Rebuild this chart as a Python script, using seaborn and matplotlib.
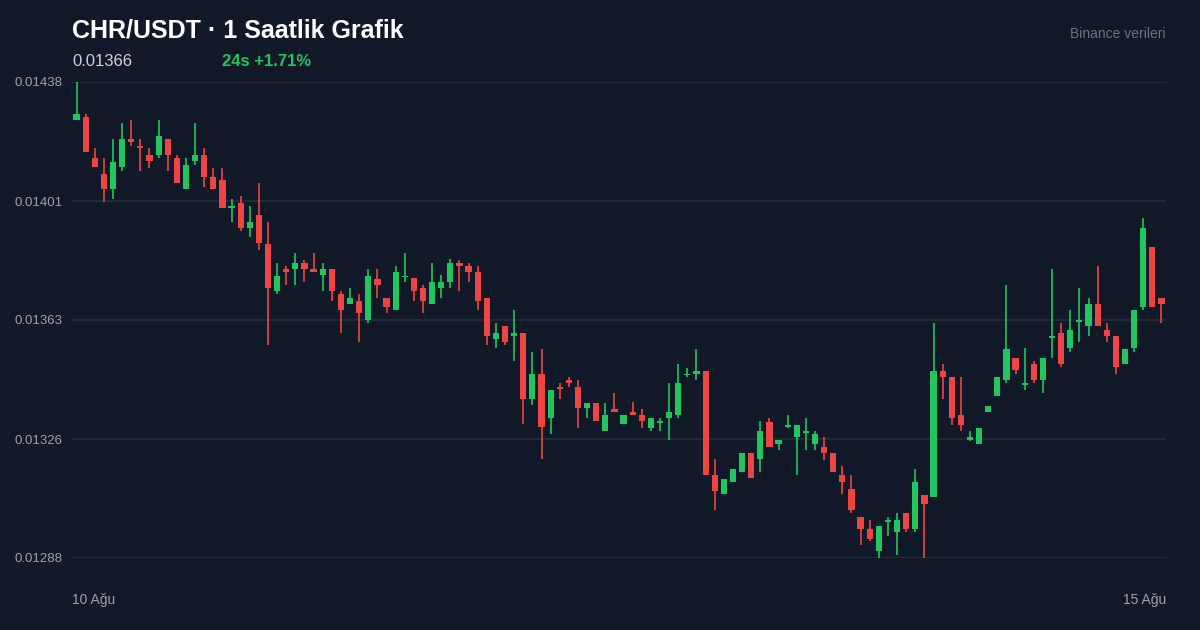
import numpy as np
import matplotlib
matplotlib.use("Agg")
import matplotlib.pyplot as plt
import seaborn as sns

# CHR/USDT 1h candles, 10-15 Aug
opens = [
    0.014261, 0.014270, 0.014139, 0.014090, 0.014042, 0.014111, 0.014199, 0.014179, 0.014150, 0.014151,
    0.014200, 0.014140, 0.014042, 0.014132, 0.014150, 0.014080, 0.014070, 0.013984, 0.014000, 0.013921,
    0.013961, 0.013869, 0.013721, 0.013791, 0.013791, 0.013809, 0.013791, 0.013772, 0.013791, 0.013711,
    0.013680, 0.013691, 0.013630, 0.013759, 0.013700, 0.013660, 0.013765, 0.013761, 0.013730, 0.013680,
    0.013731, 0.013751, 0.013811, 0.013800, 0.013780, 0.013700, 0.013571, 0.013610, 0.013581, 0.013590,
    0.013381, 0.013460, 0.013321, 0.013420, 0.013441, 0.013420, 0.013352, 0.013369, 0.013281, 0.013350,
    0.013301, 0.013340, 0.013330, 0.013291, 0.013305, 0.013320, 0.013331, 0.013456, 0.013461, 0.013469,
    0.013141, 0.013081, 0.013121, 0.013150, 0.013210, 0.013191, 0.013310, 0.013240, 0.013294, 0.013261,
    0.013275, 0.013240, 0.013230, 0.013210, 0.013140, 0.013099, 0.013010, 0.012970, 0.012901, 0.012994,
    0.012961, 0.013021, 0.012971, 0.013080, 0.013071, 0.013469, 0.013449, 0.013330, 0.013252, 0.013240,
    0.013341, 0.013392, 0.013441, 0.013509, 0.013425, 0.013490, 0.013441, 0.013574, 0.013589, 0.013541,
    0.013625, 0.013611, 0.013679, 0.013600, 0.013580, 0.013490, 0.013541, 0.013671, 0.013859, 0.013699,
]
highs = [
    0.014380, 0.014280, 0.014171, 0.014139, 0.014200, 0.014250, 0.014260, 0.014199, 0.014171, 0.014260,
    0.014200, 0.014150, 0.014140, 0.014250, 0.014171, 0.014110, 0.014110, 0.014010, 0.014021, 0.013990,
    0.014061, 0.013939, 0.013811, 0.013800, 0.013840, 0.013820, 0.013840, 0.013809, 0.013791, 0.013721,
    0.013731, 0.013711, 0.013791, 0.013791, 0.013700, 0.013800, 0.013840, 0.013761, 0.013740, 0.013811,
    0.013771, 0.013821, 0.013819, 0.013809, 0.013800, 0.013700, 0.013621, 0.013610, 0.013660, 0.013590,
    0.013530, 0.013540, 0.013409, 0.013430, 0.013450, 0.013441, 0.013369, 0.013369, 0.013369, 0.013400,
    0.013331, 0.013371, 0.013351, 0.013320, 0.013320, 0.013430, 0.013490, 0.013480, 0.013540, 0.013469,
    0.013191, 0.013130, 0.013160, 0.013210, 0.013210, 0.013311, 0.013320, 0.013251, 0.013331, 0.013300,
    0.013320, 0.013280, 0.013260, 0.013210, 0.013170, 0.013140, 0.013010, 0.013000, 0.012980, 0.013010,
    0.013021, 0.013021, 0.013159, 0.013080, 0.013619, 0.013490, 0.013449, 0.013449, 0.013280, 0.013290,
    0.013360, 0.013449, 0.013740, 0.013509, 0.013541, 0.013500, 0.013509, 0.013790, 0.013620, 0.013660,
    0.013730, 0.013700, 0.013800, 0.013620, 0.013580, 0.013540, 0.013660, 0.013950, 0.013859, 0.013699,
]
lows = [
    0.014261, 0.014160, 0.014111, 0.014001, 0.014011, 0.014101, 0.014179, 0.014101, 0.014110, 0.014142,
    0.014101, 0.014061, 0.014042, 0.014120, 0.014050, 0.014042, 0.013982, 0.013940, 0.013910, 0.013890,
    0.013851, 0.013551, 0.013711, 0.013740, 0.013740, 0.013751, 0.013780, 0.013721, 0.013691, 0.013590,
    0.013680, 0.013562, 0.013621, 0.013700, 0.013651, 0.013660, 0.013751, 0.013691, 0.013651, 0.013680,
    0.013700, 0.013732, 0.013721, 0.013751, 0.013661, 0.013550, 0.013541, 0.013550, 0.013501, 0.013301,
    0.013361, 0.013191, 0.013271, 0.013381, 0.013420, 0.013291, 0.013321, 0.013311, 0.013281, 0.013341,
    0.013301, 0.013331, 0.013291, 0.013280, 0.013280, 0.013251, 0.013320, 0.013451, 0.013441, 0.013141,
    0.013031, 0.013081, 0.013121, 0.013150, 0.013131, 0.013151, 0.013231, 0.013220, 0.013291, 0.013141,
    0.013220, 0.013220, 0.013190, 0.013150, 0.013081, 0.013021, 0.012921, 0.012932, 0.012880, 0.012950,
    0.012891, 0.012961, 0.012961, 0.012880, 0.013071, 0.013380, 0.013300, 0.013280, 0.013250, 0.013240,
    0.013341, 0.013392, 0.013430, 0.013461, 0.013409, 0.013430, 0.013401, 0.013511, 0.013481, 0.013530,
    0.013562, 0.013580, 0.013611, 0.013561, 0.013461, 0.013490, 0.013530, 0.013660, 0.013671, 0.013622,
]
closes = [
    0.014279, 0.014160, 0.014111, 0.014042, 0.014129, 0.014199, 0.014192, 0.014172, 0.014132, 0.014210,
    0.014151, 0.014061, 0.014120, 0.014150, 0.014082, 0.014042, 0.013982, 0.013989, 0.013921, 0.013940,
    0.013872, 0.013732, 0.013770, 0.013780, 0.013809, 0.013791, 0.013780, 0.013791, 0.013721, 0.013661,
    0.013700, 0.013651, 0.013770, 0.013740, 0.013671, 0.013780, 0.013770, 0.013721, 0.013691, 0.013751,
    0.013751, 0.013811, 0.013801, 0.013781, 0.013691, 0.013581, 0.013590, 0.013561, 0.013590, 0.013381,
    0.013460, 0.013292, 0.013409, 0.013412, 0.013430, 0.013352, 0.013369, 0.013311, 0.013331, 0.013341,
    0.013331, 0.013332, 0.013311, 0.013320, 0.013311, 0.013340, 0.013430, 0.013460, 0.013469, 0.013141,
    0.013091, 0.013130, 0.013160, 0.013210, 0.013131, 0.013280, 0.013231, 0.013251, 0.013300, 0.013300,
    0.013280, 0.013270, 0.013212, 0.013150, 0.013121, 0.013031, 0.012971, 0.012940, 0.012980, 0.013000,
    0.013000, 0.012971, 0.013119, 0.013051, 0.013469, 0.013451, 0.013320, 0.013300, 0.013260, 0.013290,
    0.013360, 0.013449, 0.013539, 0.013471, 0.013430, 0.013441, 0.013509, 0.013580, 0.013491, 0.013598,
    0.013630, 0.013679, 0.013611, 0.013580, 0.013481, 0.013540, 0.013660, 0.013919, 0.013671, 0.013680,
]

title = "CHR/USDT · 1 Saatlik Grafik"
last_price = "0.01366"
change_text = "24s +1.71%"
source_text = "Binance verileri"
date_labels = ["10 Ağu", "15 Ağu"]
price_min, price_max = 0.01288, 0.01438

BG = "#111827"
UP = "#22c55e"
DOWN = "#ef4444"
GRID = "#1f2937"
MUTED = "#9ca3af"

sns.set_theme(style="dark", rc={
    "figure.facecolor": BG,
    "axes.facecolor": BG,
    "axes.edgecolor": BG,
    "grid.color": GRID,
    "text.color": MUTED,
    "xtick.color": MUTED,
    "ytick.color": MUTED,
})
plt.rcParams["font.family"] = ["Liberation Sans", "DejaVu Sans"]

o = np.array(opens)
h = np.array(highs)
l = np.array(lows)
c = np.array(closes)
idx = np.arange(len(o))
up = c >= o
colors = np.where(up, UP, DOWN)

fig = plt.figure(figsize=(12, 6.3), dpi=100)
ax = fig.add_axes([72 / 1200, 72 / 630, 1094 / 1200, 476 / 630])

ax.vlines(idx, l, h, colors=colors, linewidth=1.2, zorder=2)
body_lo = np.minimum(o, c)
body_h = np.maximum(np.abs(c - o), 0.000004)
ax.bar(idx, body_h, bottom=body_lo, width=0.68, color=colors, linewidth=0, zorder=3)

ax.set_xlim(-0.5, len(o) - 0.5)
ax.set_ylim(price_min, price_max)
yt = np.linspace(price_min, price_max, 5)
ax.set_yticks(yt)
ax.set_yticklabels([f"{v:.5f}" for v in yt], fontsize=9.5, color=MUTED)
ax.yaxis.grid(True, color=GRID, linewidth=1.6)
ax.xaxis.grid(False)
ax.tick_params(axis="y", length=0, pad=7)
ax.tick_params(axis="x", length=0, pad=25)
ax.set_xticks([-0.5, len(o) - 0.5])
ax.set_xticklabels(date_labels, fontsize=10, color=MUTED)
xl = ax.get_xticklabels()
xl[0].set_ha("left")
xl[1].set_ha("right")
for s in ax.spines.values():
    s.set_visible(False)

fig.text(72 / 1200, 1 - 38 / 630, title, fontsize=18, fontweight="bold",
         color="white", va="baseline", ha="left")
fig.text(72 / 1200, 1 - 66 / 630, last_price, fontsize=12, color="#d1d5db",
         va="baseline", ha="left")
fig.text(222 / 1200, 1 - 66 / 630, change_text, fontsize=12, fontweight="bold",
         color=UP, va="baseline", ha="left")
fig.text(1166 / 1200, 1 - 38 / 630, source_text, fontsize=10, color="#6b7280",
         va="baseline", ha="right")

fig.savefig("out.png", dpi=100, facecolor=BG)
